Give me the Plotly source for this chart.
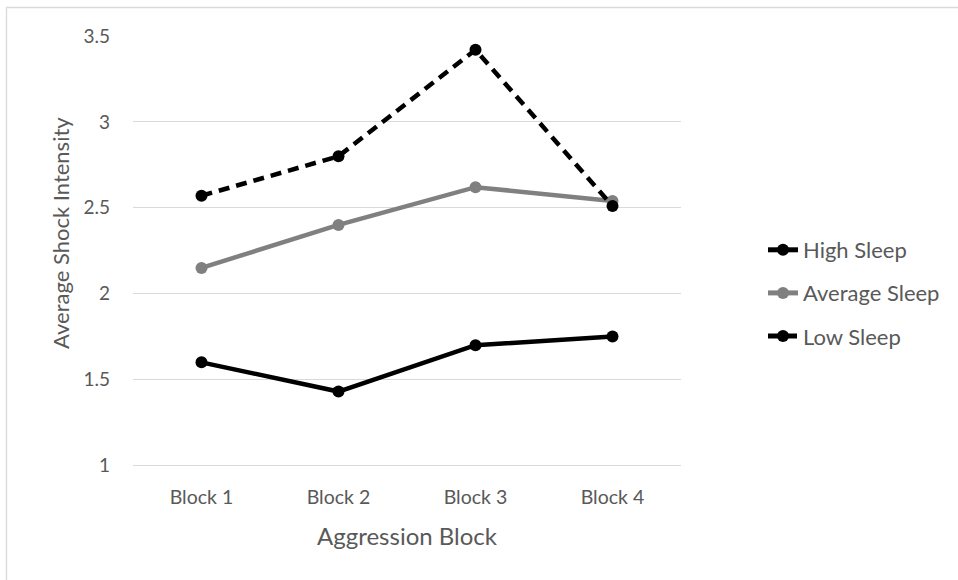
import plotly.graph_objects as go

# Categories and series values
blocks = ["Block 1", "Block 2", "Block 3", "Block 4"]
high_sleep = [1.60, 1.43, 1.70, 1.75]
average_sleep = [2.15, 2.40, 2.62, 2.54]
low_sleep = [2.57, 2.80, 3.42, 2.51]
y_ticks = [1, 1.5, 2, 2.5, 3, 3.5]
y_tick_labels = ["1", "1.5", "2", "2.5", "3", "3.5"]

FONT = "Lato, Open Sans, sans-serif"
TEXT = "#595959"

# plot area in pixels
L, T, B = 133, 36, 112
W, H = 548, 580 - T - B

fig = go.Figure()
fig.add_trace(go.Scatter(
    x=blocks, y=high_sleep, name="High Sleep", mode="lines+markers", legendgroup="high",
    line=dict(color="#000000", width=4.5), marker=dict(size=12, color="#000000"),
))
fig.add_trace(go.Scatter(
    x=blocks, y=average_sleep, name="Average Sleep", mode="lines+markers", legendgroup="avg",
    line=dict(color="#808080", width=4.5), marker=dict(size=12, color="#808080"),
))
fig.add_trace(go.Scatter(
    x=blocks, y=low_sleep, name="Low Sleep", mode="lines+markers", legendgroup="low",
    line=dict(color="#000000", width=4.5, dash="11px,7px"),
    marker=dict(size=12, color="#000000"),
))

fig.update_layout(
    width=958, height=580,
    margin=dict(l=L, r=958 - L - W, t=T, b=B),
    paper_bgcolor="white", plot_bgcolor="white",
    font=dict(family=FONT, size=19, color=TEXT),
    showlegend=True,
    legend=dict(
        x=(763 - L) / W, xanchor="left", xref="paper",
        y=(T + H - 229) / H, yanchor="top",
        font=dict(family=FONT, size=22, color=TEXT),
        itemsizing="constant", tracegroupgap=11.5, traceorder="grouped",
        bgcolor="rgba(0,0,0,0)", borderwidth=0,
    ),
    xaxis=dict(
        type="category", range=[-0.5, 3.5],
        showgrid=False, showline=False, zeroline=False, ticks="",
        ticklabelstandoff=15,
        tickfont=dict(family=FONT, size=19.5, color=TEXT),
        title=dict(text="Aggression Block", font=dict(family=FONT, size=24, color=TEXT), standoff=21),
    ),
    yaxis=dict(
        range=[0.985, 3.5], tickvals=y_ticks, ticktext=y_tick_labels,
        showgrid=True, gridcolor="#d9d9d9", gridwidth=1.3,
        showline=False, zeroline=False, ticks="",
        ticklabelstandoff=22,
        tickfont=dict(family=FONT, size=19, color=TEXT),
    ),
    annotations=[dict(
        text="Average Shock Intensity", textangle=-90,
        xref="paper", yref="paper", x=(60 - L) / W, y=(T + H - 233) / H,
        xanchor="center", yanchor="middle", showarrow=False,
        font=dict(family=FONT, size=22, color=TEXT),
    )],
    shapes=[dict(
        type="rect", xref="paper", yref="paper",
        x0=(6.5 - L) / W, x1=(958 + 20 - L) / W,
        y0=-(B + 40) / H, y1=(T + H - 7.5) / H,
        line=dict(color="#d9d9d9", width=1.3), fillcolor="rgba(0,0,0,0)", layer="below",
    )],
)

fig.write_html("out.html")
